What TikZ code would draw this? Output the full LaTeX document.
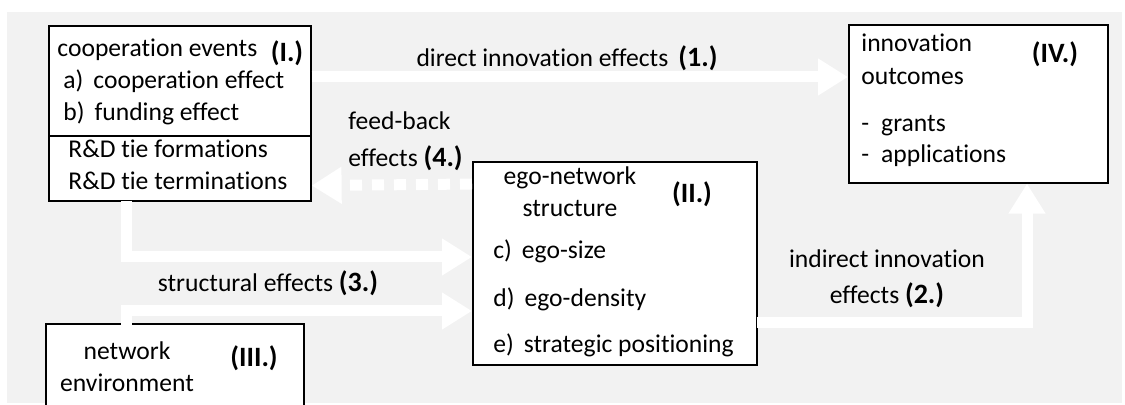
\documentclass[tikz,border=0pt]{standalone}
\usepackage{fontspec}
\setmainfont{Carlito}[Ligatures=NoCommon]
\usetikzlibrary{positioning,arrows.meta}
\definecolor{bggray}{HTML}{F2F2F2}
\newcommand{\nr}[1]{{\bfseries\fontsize{14}{16}\selectfont(#1)}}

\begin{document}
\begin{tikzpicture}[x=0.5pt,y=-0.5pt,
    box/.style={draw,line width=0.8pt,fill=white,anchor=north west,inner sep=0pt},
    lbl/.style={inner sep=0pt,anchor=base west,font=\fontsize{12.8}{15}\selectfont},
    clbl/.style={inner sep=0pt,anchor=base,font=\fontsize{12.8}{15}\selectfont},
    num/.style={inner sep=0pt,anchor=base,font=\bfseries\fontsize{14}{16}\selectfont},
    fat/.style={white,line width=5.5pt,-{Triangle[width=17.5pt,length=15pt]}},
    dots/.style={fat,dash pattern=on 6pt off 5pt}]
    \useasboundingbox (0,0) rectangle (1125,405);
    \fill[bggray] (7,12) rectangle (1122,403);

    %% boxes
    \node (boxI) [box,minimum width=131pt,minimum height=87.5pt] at (48,25) {};
    \node (boxIV) [box,minimum width=129.5pt,minimum height=79pt] at (848,24) {};
    \node (boxII) [box,minimum width=142pt,minimum height=101.5pt] at (472,161) {};
    \node (boxIII) [box,minimum width=129pt,minimum height=46pt] at (45,323) {};
    \draw[line width=0.8pt] ([yshift=-55.5pt]boxI.north west) -- ([yshift=-55.5pt]boxI.north east);

    %% arrows
    \draw[fat] ([yshift=-26pt]boxI.north east) -- ([yshift=-26.5pt]boxIV.north west);
    \draw[dots] ([yshift=-11.5pt]boxII.north west) -- ([yshift=8pt]boxI.south east);
    \draw[fat] ([xshift=39pt,yshift=0.5pt]boxI.south west) |- ([yshift=-48pt]boxII.north west);
    \draw[fat] ([xshift=40.5pt,yshift=-1pt]boxIII.north west) |- ([yshift=-75pt]boxII.north west);
    \draw[fat] ([yshift=-81pt,xshift=-0.5pt]boxII.north east) -| ([xshift=89.5pt]boxIV.south west);

    %% box I
    \node (a1) [lbl] at (57,57) {cooperation events};
    \node (n1) [num] at (287,62) {(I.)};
    \node (b1) [lbl] at (63,89) {a)\hspace{5pt}cooperation effect};
    \node (c1) [below=16pt of b1.base west,lbl] {b)\hspace{5pt}funding effect};
    \node (d1) [lbl] at (68,158) {R\&D tie formations};
    \node (e1) [below=16pt of d1.base west,lbl] {R\&D tie terminations};

    %% box IV
    \node (a4) [lbl] at (861,52) {innovation};
    \node (b4) [below=16.5pt of a4.base west,lbl] {outcomes};
    \node (n4) [num] at (1055,63) {(IV.)};
    \node (c4) [lbl] at (861,132) {-\hspace{6pt}grants};
    \node (d4) [below=15.5pt of c4.base west,lbl] {-\hspace{6pt}applications};

    %% box II
    \node (a2) [clbl] at (570,185) {ego-network};
    \node (b2) [below=16pt of a2.base,clbl] {structure};
    \node (n2) [num] at (692,203) {(II.)};
    \node (c2) [lbl] at (493,259) {c)\hspace{5pt}ego-size};
    \node (d2) [below=24pt of c2.base west,lbl] {d)\hspace{5pt}ego-density};
    \node (e2) [below=23pt of d2.base west,lbl] {e)\hspace{5pt}strategic positioning};

    %% box III
    \node (a3) [clbl] at (127,360) {network};
    \node (b3) [below=16pt of a3.base,clbl] {environment};
    \node (n3) [num] at (254,367) {(III.)};

    %% arrow labels
    \node (l1) [clbl] at (567,67) {direct innovation effects\hspace{5pt}\nr{1.}};
    \node (l4) [lbl] at (348,130) {feed-back};
    \node (m4) [below=18.5pt of l4.base west,lbl] {effects \nr{4.}};
    \node (l3) [clbl] at (268,292) {structural effects \nr{3.}};
    \node (l2) [clbl] at (887,268) {indirect innovation};
    \node (m2) [below=18pt of l2.base,clbl] {effects \nr{2.}};
\end{tikzpicture}
\end{document}
